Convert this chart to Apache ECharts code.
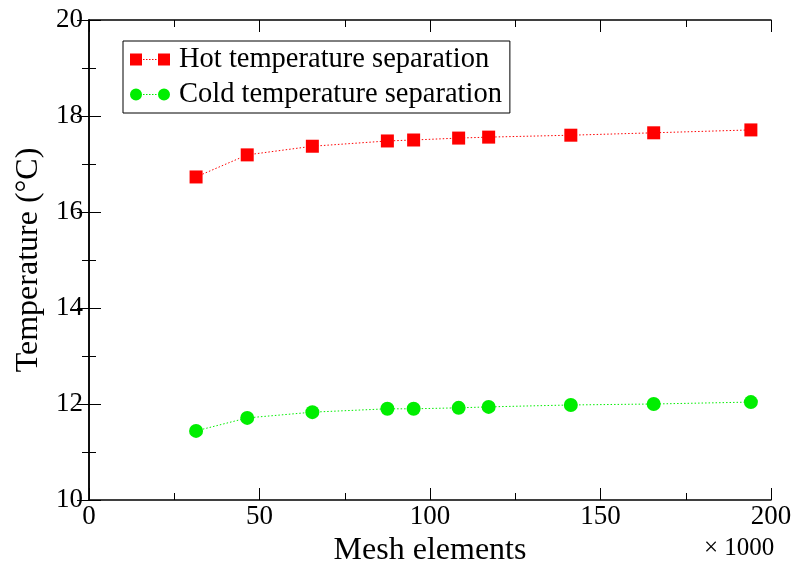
<!DOCTYPE html>
<html>
<head>
<meta charset="utf-8">
<script src="https://cdn.jsdelivr.net/npm/echarts@6/dist/echarts.min.js"></script>
<style>
  html, body { margin: 0; padding: 0; background: #fff; }
  #eChart { width: 796px; height: 563px; }
</style>
</head>
<body>
<div id="eChart"></div>
<script>
// mesh elements (x1000)
const meshElements = [31.4, 46.4, 65.5, 87.5, 95.2, 108.4, 117.2, 141.3, 165.6, 194.1];
const hotSeparation = [16.73, 17.19, 17.37, 17.48, 17.5, 17.54, 17.56, 17.6, 17.65, 17.71];
const coldSeparation = [11.44, 11.71, 11.83, 11.9, 11.9, 11.92, 11.94, 11.98, 12.0, 12.04];
const seriesNames = ["Hot temperature separation", "Cold temperature separation"];

const font = "'Liberation Serif', 'Times New Roman', serif";
const axisColor = "#000";

function pairs(xs, ys) {
  return xs.map((x, i) => [x, ys[i]]);
}

// legend glyph: marker, dotted line, marker
let dots = "";
for (let x = 13; x < 27; x += 3) dots += ` M${x},5.5H${x + 1.5}V6.5H${x}Z`;
const squareIcon = "path://M0,0H12V12H0Z M28,0H40V12H28Z" + dots;
const circleIcon = "path://M0,6A6,6 0 1,0 12,6A6,6 0 1,0 0,6Z M28,6A6,6 0 1,0 40,6A6,6 0 1,0 28,6Z" + dots;

const baseX = {
  type: "value",
  min: 0,
  max: 200,
  interval: 50,
  axisLine: { show: true, lineStyle: { color: axisColor, width: 1.5 } },
  axisTick: { show: true, inside: true, length: 12, lineStyle: { color: axisColor, width: 1 } },
  minorTick: { show: true, splitNumber: 2, length: 7, lineStyle: { color: axisColor, width: 1 } },
  splitLine: { show: false },
};
const baseY = {
  type: "value",
  min: 10,
  max: 20,
  interval: 2,
  axisLine: { show: true, lineStyle: { color: axisColor, width: 1.5 } },
  axisTick: { show: true, inside: true, length: 12, lineStyle: { color: axisColor, width: 1 } },
  minorTick: { show: true, splitNumber: 2, length: 7, lineStyle: { color: axisColor, width: 1 } },
  splitLine: { show: false },
};

const opts = {
  animation: false,
  textStyle: { fontFamily: font },
  grid: { left: 89, right: 25, top: 20, bottom: 63, outerBoundsMode: "none", containLabel: false },
  legend: {
    left: 123,
    top: 41,
    orient: "vertical",
    padding: [2, 8, 2, 7],
    itemGap: 2,
    itemWidth: 40,
    itemHeight: 12,
    borderColor: "#000",
    borderWidth: 1,
    borderRadius: 0,
    textStyle: { fontFamily: font, fontSize: 28.5, color: "#000", lineHeight: 33, padding: [0, 0, 0, 4] },
    data: [
      { name: seriesNames[0], icon: squareIcon },
      { name: seriesNames[1], icon: circleIcon },
    ],
  },
  xAxis: [
    {
      ...baseX,
      name: "Mesh elements",
      nameLocation: "middle",
      nameGap: 29,
      nameTextStyle: { fontFamily: font, fontSize: 32, color: "#000" },
      axisLabel: { fontFamily: font, fontSize: 27, color: "#000", margin: 3 },
    },
    { ...baseX, position: "top", axisLabel: { show: false } },
  ],
  yAxis: [
    {
      ...baseY,
      name: "Temperature (°C)",
      nameLocation: "middle",
      nameGap: 44,
      nameTextStyle: { fontFamily: font, fontSize: 32, color: "#000" },
      axisLabel: { fontFamily: font, fontSize: 27, color: "#000", margin: 6 },
    },
    { ...baseY, position: "right", axisLabel: { show: false } },
  ],
  graphic: [
    {
      type: "text",
      left: 704,
      top: 536,
      style: { text: "× 1000", fontFamily: font, fontSize: 25, fill: "#000" },
    },
  ],
  series: [
    {
      name: seriesNames[0],
      type: "line",
      symbol: "rect",
      symbolSize: 13,
      data: pairs(meshElements, hotSeparation),
      itemStyle: { color: "#ff0000" },
      lineStyle: { color: "#ff0000", width: 1, type: [1.5, 2] },
    },
    {
      name: seriesNames[1],
      type: "line",
      symbol: "circle",
      symbolSize: 14,
      data: pairs(meshElements, coldSeparation),
      itemStyle: { color: "#00ee00" },
      lineStyle: { color: "#00ee00", width: 1, type: [1.5, 2] },
    },
  ],
};

const myChart = echarts.init(document.getElementById("eChart"), null, { renderer: "canvas" });
myChart.setOption(opts);
</script>
</body>
</html>
